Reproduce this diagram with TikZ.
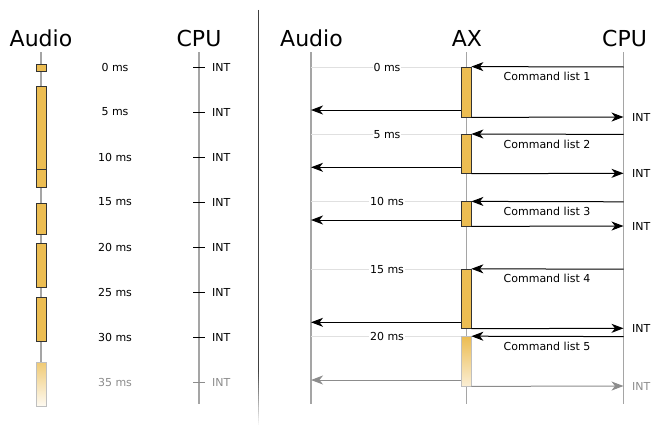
\documentclass[tikz,border=0pt]{standalone}
\usepackage{fontspec}
\setmainfont{DejaVu Sans}
\usetikzlibrary{positioning,arrows.meta,calc}
\definecolor{barfill}{RGB}{236,189,82}
\definecolor{lifegray}{RGB}{165,165,165}
\definecolor{fadegray}{RGB}{140,140,140}
\tikzset{
  title/.style={font=\fontsize{22}{24}\selectfont,anchor=base,inner sep=0pt},
  lbl/.style={font=\fontsize{11}{13}\selectfont,inner sep=1pt},
  life/.style={draw=lifegray,line width=1.1pt},
  timeline/.style={draw=black!12,line width=1pt},
  bar/.style={draw=black!80,line width=0.8pt,fill=barfill,minimum width=10pt,inner sep=0pt},
  fadebar/.style={draw=black!25,line width=0.8pt,minimum width=10pt,inner sep=0pt},
  msg/.style={-{Stealth[length=12pt,width=9pt,inset=3.5pt]},line width=1pt},
}

\begin{document}
\begin{tikzpicture}[x=1pt,y=-1pt]
  \useasboundingbox (0,0) rectangle (660,436);
  % left panel
  \node[title] (laudio) at (41,46) {Audio};
  \node[title] (lcpu) at (199,46) {CPU};
  \draw[life] (41,52) -- (41,406);
  \draw[life] (199,52) -- (199,404);
  \foreach \i in {0,...,7}{
    \pgfmathsetmacro\yy{67+45*\i}
    \pgfmathtruncatemacro\ms{5*\i}
    \ifnum\i<7 \def\tc{black}\else\def\tc{fadegray}\fi
    \node[lbl,text=\tc] (lms\i) at (115,\yy) {\ms\ ms};
    \coordinate (lc\i) at (199,\yy);
    \draw[line width=1pt,draw=\tc] ([xshift=-6pt]lc\i) -- ([xshift=6pt]lc\i);
    \node[lbl,anchor=west,text=\tc] (lint\i) at (211,\yy) {INT};
  }
  \foreach \n/\c/\h in {1/67.5/7, 2/127.5/83, 3/178/18, 4/218.5/31, 5/265/44, 6/319/44}
    \node[bar,minimum height=\h pt] (lb\n) at (41,\c) {};
  \node[fadebar,top color=barfill!80,bottom color=barfill!8,minimum height=44pt] (lb7) at (41,384) {};

  % divider
  \draw[line width=1.5pt,draw=black!75] (258.5,10) -- (258.5,370);
  \foreach \k in {0,...,24}
    \draw[line width=1.5pt,draw=black!\fpeval{75-3*\k}] (258.5,370+2.2*\k) -- (258.5,372.3+2.2*\k);

  % right panel
  \node[title] (raudio) at (311.5,46) {Audio};
  \node[title] (rax) at (467,46) {AX};
  \node[title] (rcpu) at (624.5,46) {CPU};
  \draw[life] (311,52) -- (311,404);
  \draw[life] (466.5,52) -- (466.5,404);
  \draw[life] (623.5,52) -- (623.5,404);

  \foreach \n/\t/\top in {1/0/67, 2/5/134.4, 3/10/201.8, 4/15/269.2, 5/20/336.6}{
    \coordinate (ta\n) at (311,\top);
    \draw[timeline] (ta\n) -- (466.5,\top);
    \node[lbl,fill=white] (rms\n) at (387,\top) {\t\ ms};
  }

  \foreach \n/\top/\bot/\au in {1/67/117/110, 2/134.4/173.3/167.3, 3/201.8/226/220, 4/269.2/328.3/322.3}{
    \pgfmathsetmacro\hh{\bot-\top}
    \node[bar,minimum height=\hh pt] (ax\n) at (466,{(\top+\bot)/2}) {};
    \coordinate (cp\n) at (623.5,\top);
    \draw[msg] (cp\n) -- (ax\n.north east);
    \node[lbl] (cl\n) at (547,\top+9.5) {Command list \n};
    \coordinate (au\n) at (311,\au);
    \draw[msg] (ax\n.west |- au\n) -- (au\n);
    \coordinate (ci\n) at (623.5,\bot);
    \draw[msg] (ax\n.south east) -- (ci\n);
    \node[lbl,anchor=west] (rint\n) at (631,\bot) {INT};
  }

  % last, faded
  \node[fadebar,top color=barfill,bottom color=barfill!25,minimum height=49.4pt] (ax5) at (466,361.3) {};
  \coordinate (cp5) at (623.5,336.6);
  \draw[msg] (cp5) -- (ax5.north east);
  \node[lbl] (cl5) at (547,346.1) {Command list 5};
  \coordinate (au5) at (311,380);
  \draw[msg,draw=fadegray] (ax5.west |- au5) -- (au5);
  \coordinate (ci5) at (623.5,386);
  \draw[msg,draw=fadegray] (ax5.south east) -- (ci5);
  \node[lbl,anchor=west,text=fadegray] (rint5) at (631,386) {INT};
\end{tikzpicture}
\end{document}
